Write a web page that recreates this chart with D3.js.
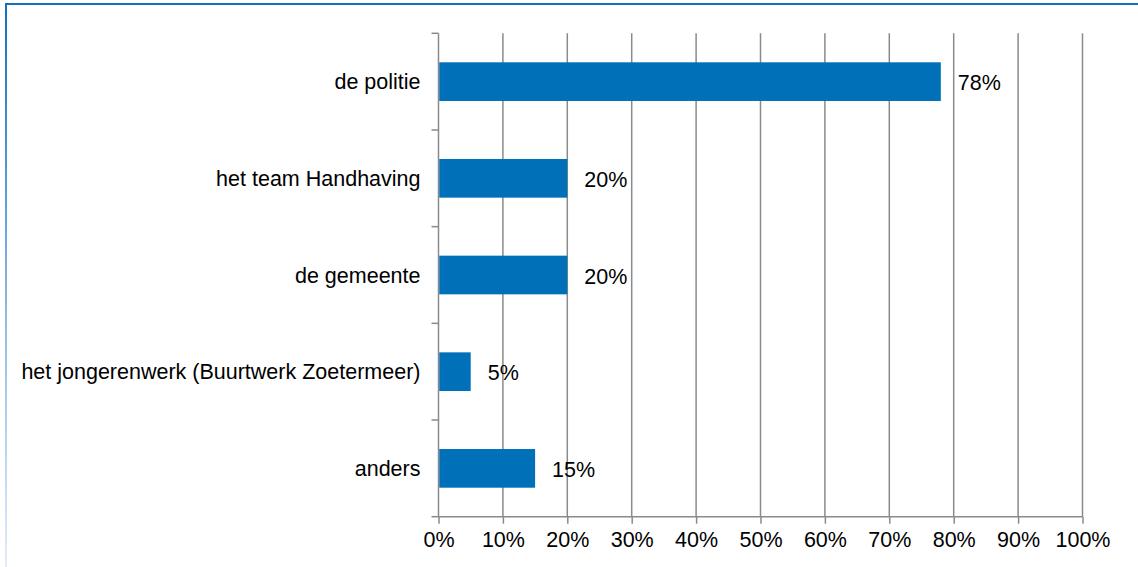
<!DOCTYPE html>
<html>
<head>
<meta charset="utf-8">
<script src="https://cdn.jsdelivr.net/npm/d3@7"></script>
<style>
  body { margin: 0; background: #fff; }
  text { font-family: "Liberation Sans", Arial, sans-serif; fill: #000; }
</style>
</head>
<body>
<div id="chart"></div>
<script>
  const categories = [
    "de politie",
    "het team Handhaving",
    "de gemeente",
    "het jongerenwerk (Buurtwerk Zoetermeer)",
    "anders"
  ];
  const values = [78, 20, 20, 5, 15];
  const xTicks = [0, 10, 20, 30, 40, 50, 60, 70, 80, 90, 100];

  const data = categories.map((c, i) => ({ name: c, value: values[i] }));

  const width = 1138;
  const height = 567;
  const margin = { top: 33.3, right: 55.5, bottom: 50.3, left: 438.5 };
  const innerW = width - margin.left - margin.right;
  const innerH = height - margin.top - margin.bottom;
  const fontSize = "21.5px";

  const svg = d3
    .select("#chart")
    .append("svg")
    .attr("width", width)
    .attr("height", height);

  // frame
  const defs = svg.append("defs");
  const grad = defs
    .append("linearGradient")
    .attr("id", "leftEdge")
    .attr("x1", 0).attr("y1", 0).attr("x2", 0).attr("y2", 1);
  grad.append("stop").attr("offset", "0%").attr("stop-color", "#1171ba");
  grad.append("stop").attr("offset", "55%").attr("stop-color", "#8cbbe6");
  grad.append("stop").attr("offset", "100%").attr("stop-color", "#e3ebf8");

  svg.append("rect")
    .attr("x", 5).attr("y", 3).attr("width", 2).attr("height", height - 3)
    .attr("fill", "url(#leftEdge)");
  svg.append("rect")
    .attr("x", 5).attr("y", 3).attr("width", width - 5).attr("height", 2)
    .attr("fill", "#1171ba");

  const g = svg
    .append("g")
    .attr("transform", `translate(${margin.left}, ${margin.top})`);

  const xScale = d3.scaleLinear().domain([0, 100]).range([0, innerW]);
  const yScale = d3
    .scaleBand()
    .domain(categories)
    .range([0, innerH])
    .paddingInner(0.6)
    .paddingOuter(0.3);

  const gridColor = "#8a8a8a";

  // vertical gridlines
  g.append("g")
    .attr("class", "grid")
    .selectAll("line")
    .data(xTicks.slice(1))
    .join("line")
    .attr("x1", (d) => xScale(d))
    .attr("x2", (d) => xScale(d))
    .attr("y1", 0)
    .attr("y2", innerH)
    .attr("stroke", gridColor)
    .attr("stroke-width", 1.5);

  // x axis
  const xAxis = d3
    .axisBottom(xScale)
    .tickValues(xTicks)
    .tickSize(7)
    .tickPadding(8)
    .tickFormat((d) => d + "%");

  const xg = g.append("g")
    .attr("transform", `translate(0, ${innerH})`)
    .call(xAxis);
  xg.select(".domain").attr("stroke", gridColor).attr("stroke-width", 1.5)
    .attr("d", `M0,0H${innerW}`);
  xg.selectAll(".tick line").attr("stroke", gridColor).attr("stroke-width", 1.5);
  xg.selectAll(".tick text")
    .attr("font-size", fontSize)
    .attr("font-family", "Liberation Sans, Arial, sans-serif")
    .attr("fill", "#000");

  // y axis: ticks on band boundaries
  const bounds = d3.range(categories.length + 1).map((i) => (innerH / categories.length) * i);
  const yg = g.append("g");
  yg.append("line")
    .attr("x1", 0).attr("x2", 0).attr("y1", 0).attr("y2", innerH)
    .attr("stroke", gridColor).attr("stroke-width", 1.5);
  yg.selectAll("line.tk")
    .data(bounds)
    .join("line")
    .attr("class", "tk")
    .attr("x1", -7).attr("x2", 0)
    .attr("y1", (d) => d).attr("y2", (d) => d)
    .attr("stroke", gridColor).attr("stroke-width", 1.5);

  yg.selectAll("text")
    .data(categories)
    .join("text")
    .attr("x", -18)
    .attr("y", (d) => yScale(d) + yScale.bandwidth() / 2)
    .attr("dy", "0.36em")
    .attr("text-anchor", "end")
    .attr("font-size", fontSize)
    .text((d) => d);

  // bars
  g.append("g")
    .selectAll("rect")
    .data(data)
    .join("rect")
    .attr("x", 0.75)
    .attr("y", (d) => yScale(d.name))
    .attr("width", (d) => xScale(d.value) - 0.75)
    .attr("height", yScale.bandwidth())
    .attr("fill", "#0070b8");

  // value labels
  g.append("g")
    .selectAll("text")
    .data(data)
    .join("text")
    .attr("x", (d) => xScale(d.value) + 17)
    .attr("y", (d) => yScale(d.name) + yScale.bandwidth() / 2)
    .attr("dy", "0.4em")
    .attr("font-size", fontSize)
    .text((d) => d.value + "%");
</script>
</body>
</html>
